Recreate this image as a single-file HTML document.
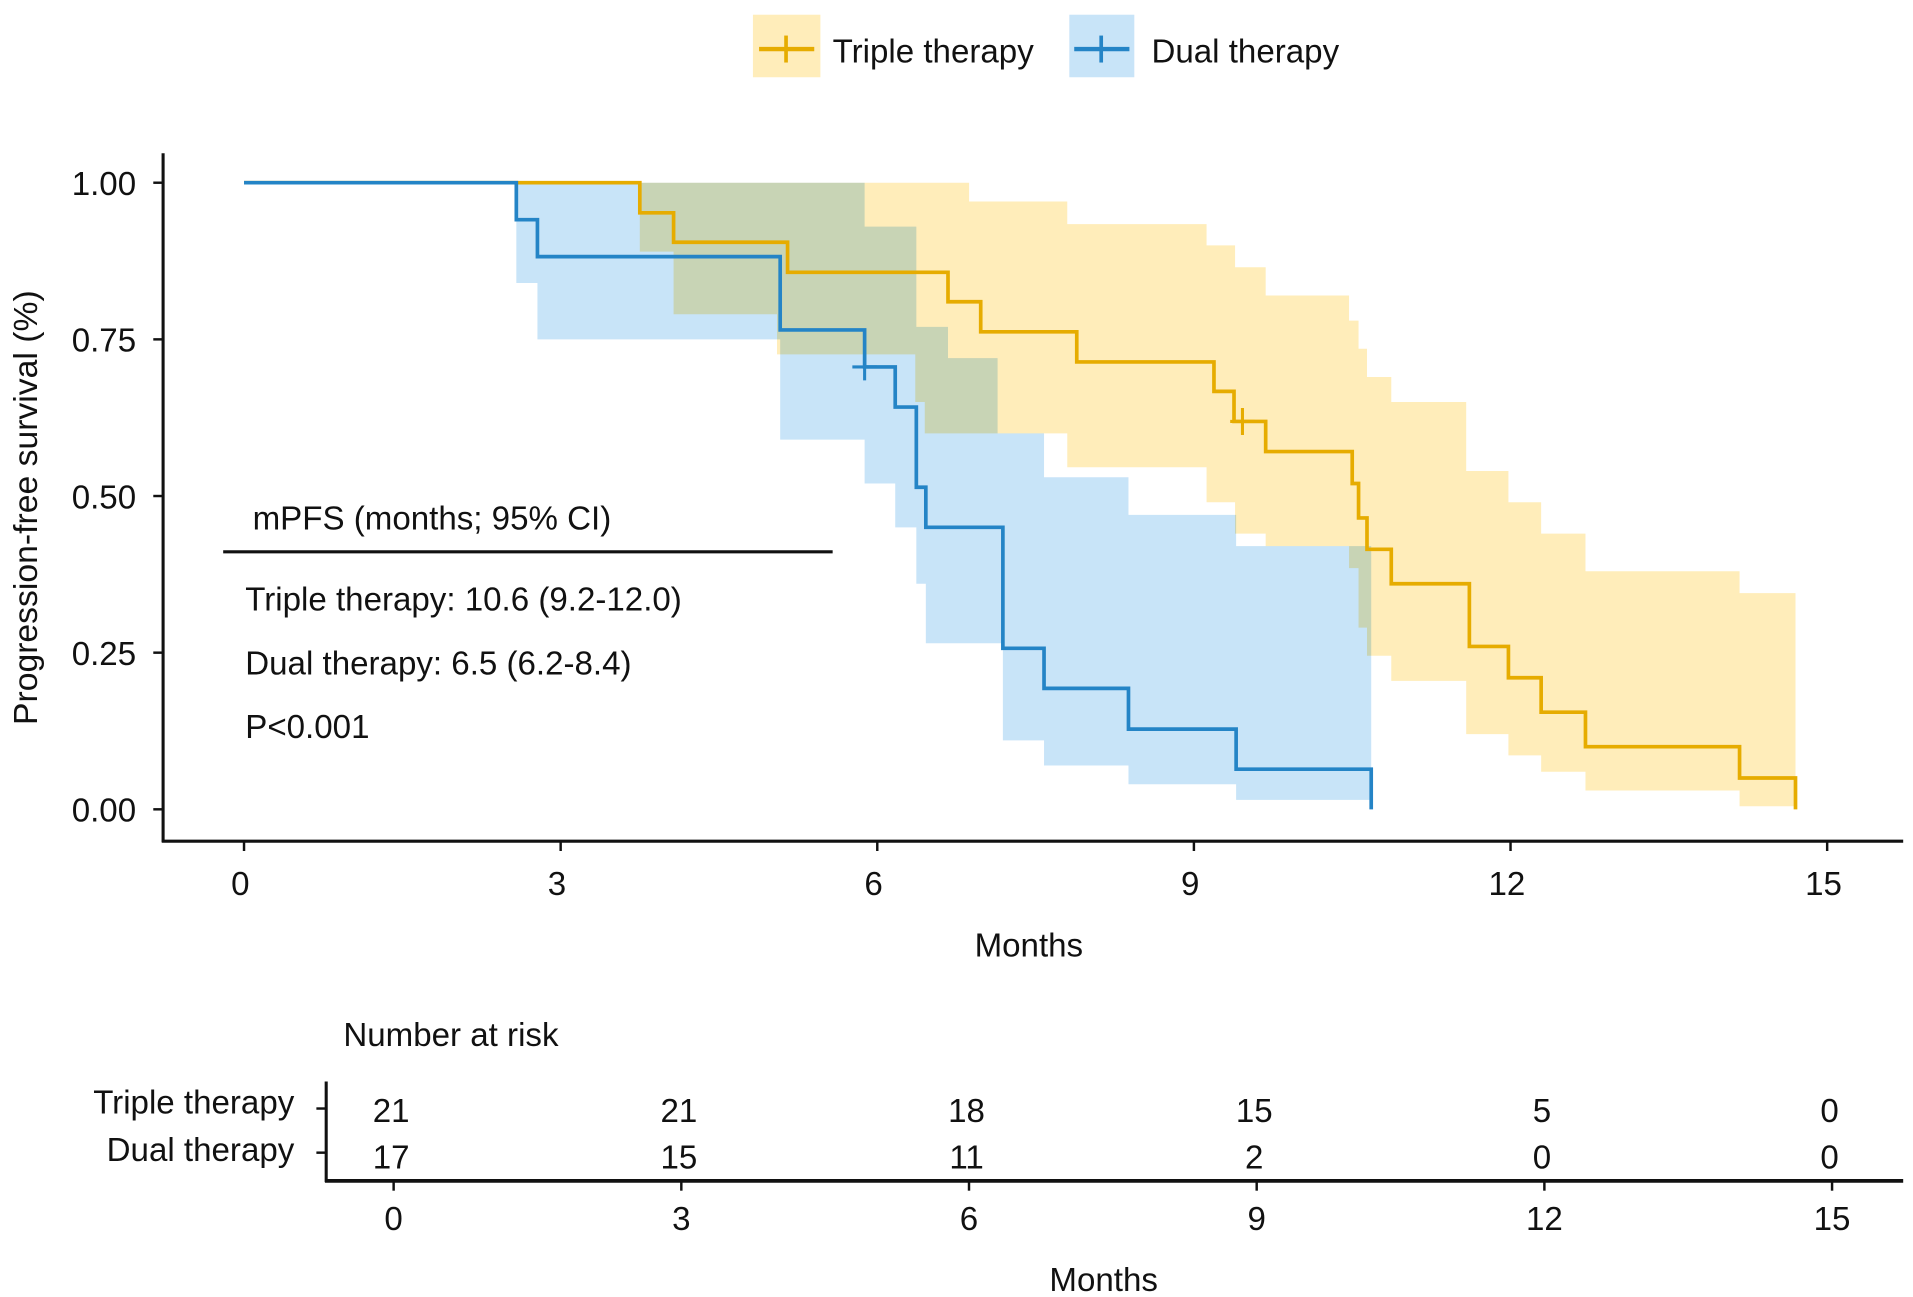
<!DOCTYPE html>
<html><head><meta charset="utf-8">
<style>
html,body{margin:0;padding:0;background:#fff;}
svg{display:block;font-family:"Liberation Sans",Arial,sans-serif;}
.band{mix-blend-mode:multiply;}
</style></head>
<body>
<svg id="chart" width="1913" height="1297" viewBox="0 0 1560 1057.7" preserveAspectRatio="none" xmlns="http://www.w3.org/2000/svg">
  <rect width="1560" height="1058" fill="#fff"/>
  <g>
    <g>
      <rect x="614" y="12" width="55" height="51" fill="#FFEDBA"/>
      <line x1="619" y1="40" x2="664" y2="40" stroke="#E6AC00" stroke-width="3.5"/>
      <line x1="641" y1="29" x2="641" y2="51" stroke="#E6AC00" stroke-width="3"/>
      <text x="679" y="51" font-size="27" fill="#111">Triple therapy</text>
    </g>
    <g>
      <rect x="872" y="12" width="53" height="51" fill="#C8E4F8"/>
      <line x1="876" y1="40" x2="921" y2="40" stroke="#2484C6" stroke-width="3.5"/>
      <line x1="898" y1="29" x2="898" y2="51" stroke="#2484C6" stroke-width="3"/>
      <text x="939" y="51" font-size="27" fill="#111">Dual therapy</text>
    </g>
  </g>
  <g id="bands"></g>
  <g id="lines"></g>
  <line x1="133" y1="125" x2="133" y2="687" stroke="#111" stroke-width="2.5"/>
  <line x1="132" y1="686" x2="1552" y2="686" stroke="#111" stroke-width="2.5"/>
  <g id="ticks"></g>
  <text x="839" y="780" font-size="27" text-anchor="middle" fill="#111">Months</text>
  <text transform="translate(30,414) rotate(-90)" font-size="27.5" text-anchor="middle" fill="#111">Progression-free survival (%)</text>
  <g>
    <text x="206" y="432" font-size="27" fill="#111">mPFS (months; 95% CI)</text>
    <line x1="182" y1="450" x2="679" y2="450" stroke="#111" stroke-width="2.5"/>
    <text x="200" y="498" font-size="27" fill="#111">Triple therapy: 10.6 (9.2-12.0)</text>
    <text x="200" y="550" font-size="27" fill="#111">Dual therapy: 6.5 (6.2-8.4)</text>
    <text x="200" y="602" font-size="27" fill="#111">P&lt;0.001</text>
  </g>
  <g>
    <text x="280" y="853" font-size="27" fill="#111">Number at risk</text>
    <line x1="266" y1="882" x2="266" y2="964" stroke="#111" stroke-width="2.5"/>
    <line x1="265" y1="963" x2="1552" y2="963" stroke="#111" stroke-width="3"/>
    <line x1="258" y1="904" x2="266" y2="904" stroke="#111" stroke-width="2"/>
    <line x1="258" y1="940" x2="266" y2="940" stroke="#111" stroke-width="2"/>
    <text x="240" y="908" font-size="27" text-anchor="end" fill="#111">Triple therapy</text>
    <text x="240" y="947" font-size="27" text-anchor="end" fill="#111">Dual therapy</text>
    <g id="risk"></g>
    <text x="900" y="1053" font-size="27" text-anchor="middle" fill="#111">Months</text>
  </g>
</svg>
<script>
const xTicks = [0, 3, 6, 9, 12, 15];
const yTicks = [0, 0.25, 0.5, 0.75, 1.0];
const yTickLabels = ["0.00", "0.25", "0.50", "0.75", "1.00"];

const triTimes = [0, 3.75, 4.07, 5.15, 6.67, 6.98, 7.89, 9.19, 9.38, 9.68, 10.5, 10.56, 10.64, 10.87, 11.61, 11.98, 12.29, 12.71, 14.17];
const triSurv  = [1, 0.952, 0.905, 0.857, 0.81, 0.762, 0.714, 0.667, 0.619, 0.571, 0.52, 0.465, 0.415, 0.36, 0.26, 0.21, 0.155, 0.10, 0.05];
const triEnd = 14.7;
const triCensorT = [9.46];
const triCensorS = [0.619];
const triCiT = [0, 3.75, 4.07, 5.05, 6.36, 6.45, 6.87, 7.8, 9.12, 9.39, 9.68, 10.47, 10.56, 10.64, 10.87, 11.58, 11.98, 12.29, 12.71, 14.17];
const triHi  = [1, 1, 1, 1, 1, 1, 0.97, 0.934, 0.90, 0.865, 0.82, 0.78, 0.735, 0.69, 0.65, 0.54, 0.49, 0.44, 0.38, 0.345];
const triLo  = [1, 0.89, 0.79, 0.726, 0.65, 0.60, 0.60, 0.546, 0.49, 0.44, 0.42, 0.385, 0.29, 0.245, 0.205, 0.12, 0.086, 0.06, 0.03, 0.005];

const duTimes = [0, 2.58, 2.78, 5.08, 5.88, 6.17, 6.37, 6.46, 7.19, 7.58, 8.38, 9.4];
const duSurv  = [1, 0.941, 0.882, 0.765, 0.706, 0.642, 0.514, 0.45, 0.257, 0.193, 0.128, 0.064];
const duEnd = 10.68;
const duCensorT = [5.88];
const duCensorS = [0.706];
const duCiT = [0, 2.58, 2.78, 5.08, 5.88, 6.17, 6.37, 6.46, 6.67, 7.14, 7.19, 7.58, 8.38, 9.4, 9.68];
const duHi  = [1, 1, 1, 1, 0.93, 0.93, 0.77, 0.77, 0.72, 0.60, 0.60, 0.53, 0.47, 0.42, 0.42];
const duLo  = [1, 0.84, 0.75, 0.59, 0.52, 0.45, 0.36, 0.265, 0.265, 0.265, 0.11, 0.07, 0.04, 0.015, 0.015];

const riskTimes = [0, 3, 6, 9, 12, 15];
const riskTriple = [21, 21, 18, 15, 5, 0];
const riskDual = [17, 15, 11, 2, 0, 0];

const X = t => 199 + t * (1490 - 199) / 15;
const Y = s => 660 - s * (660 - 149);
const XR = t => 321 + t * (1494 - 321) / 15;
const NS = "http://www.w3.org/2000/svg";
function mk(tag, parent) { const e = document.createElementNS(NS, tag); parent.appendChild(e); return e; }

function stepPath(times, vals, end, finalVal) {
  let d = "M" + X(times[0]) + "," + Y(vals[0]);
  for (let i = 1; i < times.length; i++) d += " H" + X(times[i]) + " V" + Y(vals[i]);
  d += " H" + X(end);
  if (finalVal !== undefined) d += " V" + Y(finalVal);
  return d;
}
function bandPath(times, lo, hi, end) {
  let d = "M" + X(times[0]) + "," + Y(hi[0]);
  for (let i = 1; i < times.length; i++) d += " H" + X(times[i]) + " V" + Y(hi[i]);
  d += " H" + X(end) + " V" + Y(lo[lo.length - 1]);
  for (let i = times.length - 1; i >= 1; i--) d += " H" + X(times[i]) + " V" + Y(lo[i - 1]);
  d += " H" + X(times[0]) + " Z";
  return d;
}

const bands = document.getElementById("bands");
const bt = mk("path", bands);


bt.setAttribute("d", bandPath(triCiT, triLo, triHi, triEnd));
bt.setAttribute("fill", "#FFEDBA"); bt.setAttribute("class", "band");
const bd = mk("path", bands);


bd.setAttribute("d", bandPath(duCiT, duLo, duHi, duEnd));
bd.setAttribute("fill", "#C8E4F8"); bd.setAttribute("class", "band");

const lines = document.getElementById("lines");
const lt = mk("path", lines);


lt.setAttribute("d", stepPath(triTimes, triSurv, triEnd, 0));
lt.setAttribute("fill", "none"); lt.setAttribute("stroke", "#E6AC00"); lt.setAttribute("stroke-width", "3");
const ld = mk("path", lines);


ld.setAttribute("d", stepPath(duTimes, duSurv, duEnd, 0));
ld.setAttribute("fill", "none"); ld.setAttribute("stroke", "#2484C6"); ld.setAttribute("stroke-width", "3");

function censor(ts, ss, color, name) {
  for (let i = 0; i < ts.length; i++) {
    const g = mk("path", lines);
    
    
    const cx = X(ts[i]), cy = Y(ss[i]);
    g.setAttribute("d", "M" + (cx - 10) + "," + cy + " H" + (cx + 10) + " M" + cx + "," + (cy - 11) + " V" + (cy + 11));
    g.setAttribute("stroke", color); g.setAttribute("stroke-width", "2.5");
  }
}
censor(triCensorT, triCensorS, "#E6AC00", "censor-mark-triple");
censor(duCensorT, duCensorS, "#2484C6", "censor-mark-dual");

const ticks = document.getElementById("ticks");
xTicks.forEach(t => {
  const l = mk("line", ticks);
  
  
  l.setAttribute("x1", X(t)); l.setAttribute("x2", X(t)); l.setAttribute("y1", 686); l.setAttribute("y2", 694);
  l.setAttribute("stroke", "#111"); l.setAttribute("stroke-width", "2");
  const tx = mk("text", ticks);
  
  
  tx.setAttribute("x", X(t) - 3); tx.setAttribute("y", 730); tx.setAttribute("font-size", "27");
  tx.setAttribute("text-anchor", "middle"); tx.setAttribute("fill", "#111");
  tx.textContent = String(t);
});
yTicks.forEach((s, i) => {
  const l = mk("line", ticks);
  
  
  l.setAttribute("x1", 125); l.setAttribute("x2", 133); l.setAttribute("y1", Y(s)); l.setAttribute("y2", Y(s));
  l.setAttribute("stroke", "#111"); l.setAttribute("stroke-width", "2");
  const tx = mk("text", ticks);
  
  
  tx.setAttribute("x", 111); tx.setAttribute("y", Y(s) + 10); tx.setAttribute("font-size", "27");
  tx.setAttribute("text-anchor", "end"); tx.setAttribute("fill", "#111");
  tx.textContent = yTickLabels[i];
});

const risk = document.getElementById("risk");
riskTimes.forEach((t, i) => {
  const a = mk("text", risk);
  
  
  a.setAttribute("x", XR(t) - 2); a.setAttribute("y", 915); a.setAttribute("font-size", "27");
  a.setAttribute("text-anchor", "middle"); a.setAttribute("fill", "#111");
  a.textContent = riskTriple[i];
  const b = mk("text", risk);
  
  
  b.setAttribute("x", XR(t) - 2); b.setAttribute("y", 953); b.setAttribute("font-size", "27");
  b.setAttribute("text-anchor", "middle"); b.setAttribute("fill", "#111");
  b.textContent = riskDual[i];
  const l = mk("line", risk);
  
  
  l.setAttribute("x1", XR(t)); l.setAttribute("x2", XR(t)); l.setAttribute("y1", 963); l.setAttribute("y2", 971);
  l.setAttribute("stroke", "#111"); l.setAttribute("stroke-width", "2");
  const tl = mk("text", risk);
  
  
  tl.setAttribute("x", XR(t)); tl.setAttribute("y", 1003); tl.setAttribute("font-size", "27");
  tl.setAttribute("text-anchor", "middle"); tl.setAttribute("fill", "#111");
  tl.textContent = String(t);
});
</script>
</body></html>
